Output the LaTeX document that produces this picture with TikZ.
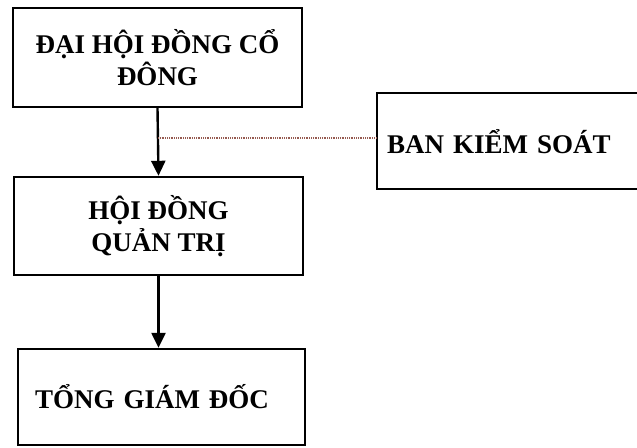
\documentclass[tikz,border=0pt]{standalone}
\usepackage{fontspec}
\setmainfont{Liberation Serif}
\usetikzlibrary{arrows.meta}
\definecolor{dotc}{RGB}{150,90,80}
\tikzset{
  box/.style={draw=black, line width=2.4pt, inner sep=0pt, font=\fontsize{27}{32}\selectfont\bfseries},
  conn/.style={line width=2.4pt, -{Triangle[width=14pt,length=15pt]}},
  dotline/.style={draw=dotc, line width=1.6pt, dash pattern=on 1pt off 0.8pt}
}
\begin{document}
\begin{tikzpicture}[x=1pt,y=-1pt]
\useasboundingbox (0,0) rectangle (637,447);
\clip (0,0) rectangle (637,447);
\fill[white] (0,0) rectangle (637,447);
\node[box, minimum width=289pt, minimum height=99pt, align=center] (dh) at (157.5,57.5) {ĐẠI HỘI ĐỒNG CỔ\\ĐÔNG};
\node[box, minimum width=289pt, minimum height=98pt, align=center] (hd) at (158.5,226) {HỘI ĐỒNG\\QUẢN TRỊ};
\node[box, minimum width=287pt, minimum height=96pt, text width=253pt, inner xsep=17pt, align=left] (tgd) at (161.5,397) {\raisebox{-4pt}{TỔNG GIÁM ĐỐC}};
\node[box, minimum width=290pt, minimum height=96pt, text width=270pt, inner xsep=10pt, align=left, anchor=north west] (bks) at (376,92) {BAN KIỂM SOÁT};
\draw[conn] (dh.south) -- (hd.north);
\draw[conn] (hd.south) -- (tgd.north -| hd.south);
\coordinate (j) at (158,138);
\draw[dotline] (j) -- (j -| bks.west);
\end{tikzpicture}
\end{document}
